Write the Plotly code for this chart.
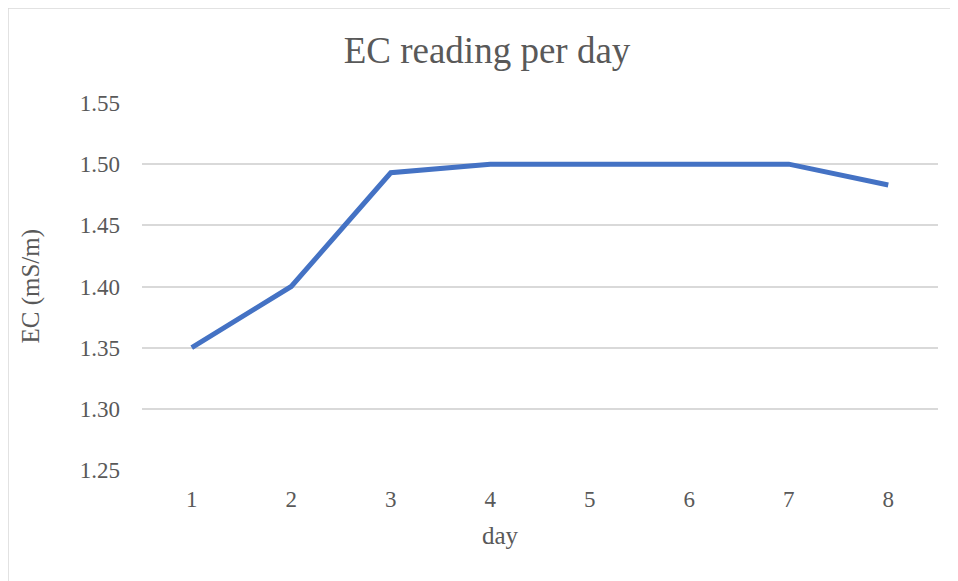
import plotly.graph_objects as go

days = [1, 2, 3, 4, 5, 6, 7, 8]
ec_values = [1.35, 1.40, 1.493, 1.50, 1.50, 1.50, 1.50, 1.483]
y_ticks = [1.25, 1.30, 1.35, 1.40, 1.45, 1.50, 1.55]

# the page body adds an 8px offset, so margins are set in figure space
L, R, T, B = 134, 28, 95, 119
PW, PH = 958 - L - R, 581 - T - B
GREY = "#595959"


def main():
    fig = go.Figure(
        data=go.Scatter(x=days, y=ec_values, mode="lines",
                        line=dict(color="#4472C4", width=5)))
    fig.update_layout(
        title=dict(text="EC reading per day", x=0.5, xanchor="center",
                   y=1 - 42 / 581, yanchor="middle",
                   font=dict(size=37, color=GREY)),
        xaxis={
            "tickvals": days,
            "range": [0.5, 8.5],
            "showgrid": False,
            "zeroline": False,
            "showline": False,
            "ticks": "",
            "ticklabelstandoff": 13,
            "tickfont": dict(size=23, color=GREY),
        },
        yaxis={
            "tickvals": y_ticks,
            "tickformat": ".2f",
            "range": [1.25, 1.55],
            "gridcolor": "#D9D9D9",
            "gridwidth": 1.5,
            "zeroline": False,
            "ticks": "",
            "ticklabelstandoff": 21,
            "tickfont": dict(size=23, color=GREY),
        },
        annotations=[
            dict(text="day", xref="paper", yref="paper", x=358 / PW, y=-65 / PH,
                 xanchor="center", yanchor="middle", showarrow=False,
                 font=dict(size=25, color=GREY)),
            dict(text="EC (mS/m)", xref="paper", yref="paper", x=-112 / PW, y=0.5,
                 xanchor="center", yanchor="middle", textangle=-90, showarrow=False,
                 font=dict(size=25, color=GREY)),
        ],
        shapes=[dict(type="rect", xref="paper", yref="paper",
                     x0=-L / PW, x1=1.1, y0=-0.4, y1=1 + T / PH,
                     line=dict(color="#D9D9D9", width=1.5), layer="below")],
        paper_bgcolor="white",
        plot_bgcolor="white",
        font=dict(family="Liberation Serif", color=GREY, size=23),
        showlegend=False,
        margin=dict(l=L, r=R, t=T, b=B),
        width=958,
        height=581,
    )
    fig.write_html("out.html")


if __name__ == "__main__":
    main()
